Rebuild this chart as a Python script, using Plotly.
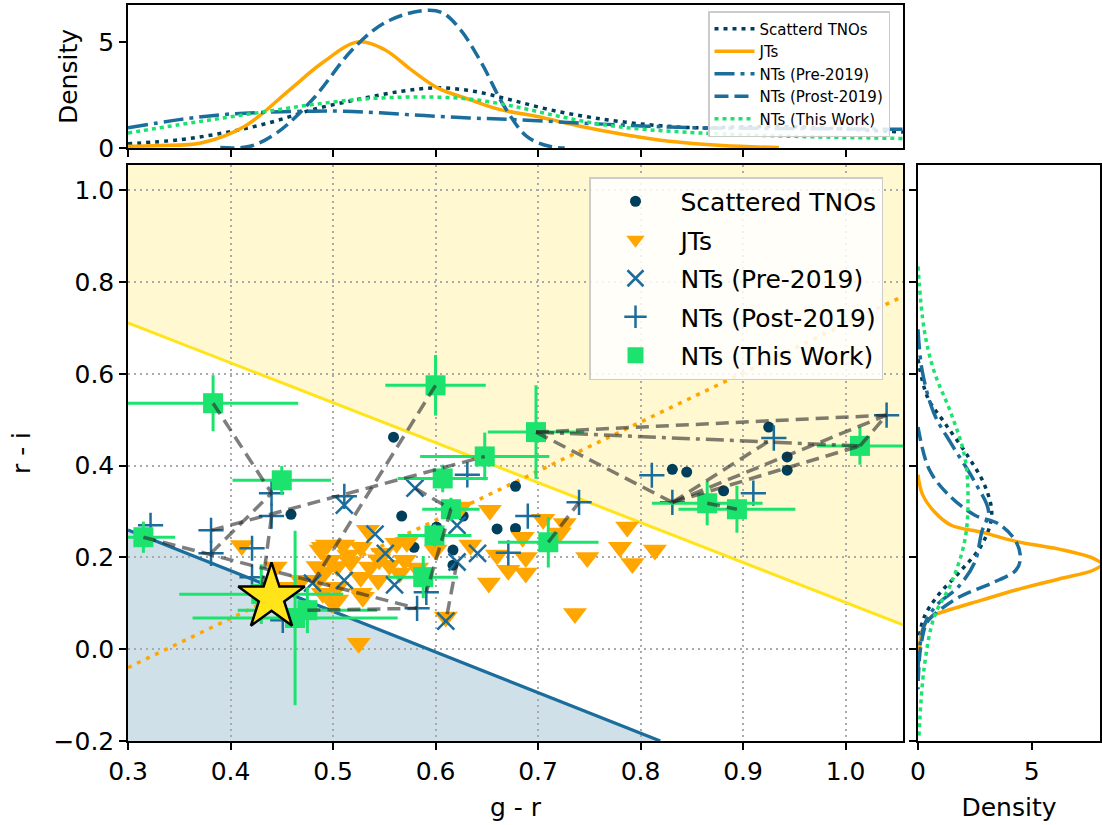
import plotly.graph_objects as go

# ------------------------------------------------------------------ data
SCAT_GR = [0.459, 0.559, 0.567, 0.627, 0.660, 0.678, 0.678, 0.617, 0.617, 0.579, 0.601,
           0.831, 0.845, 0.881, 0.925, 0.943, 0.943]
SCAT_RI = [0.294, 0.462, 0.290, 0.290, 0.262, 0.263, 0.355, 0.216, 0.183, 0.222, 0.266,
           0.392, 0.386, 0.345, 0.484, 0.419, 0.390]

JT_GR = [0.411, 0.444, 0.456, 0.469, 0.485, 0.488, 0.485, 0.490, 0.490, 0.492, 0.494, 0.497,
         0.500, 0.504, 0.504, 0.504, 0.510, 0.517, 0.527, 0.527, 0.527, 0.529, 0.534, 0.536,
         0.544, 0.548, 0.555, 0.562, 0.565, 0.570, 0.572, 0.582, 0.600, 0.610, 0.625, 0.634,
         0.652, 0.653, 0.660, 0.671, 0.685, 0.688, 0.688, 0.705, 0.721, 0.726, 0.736, 0.748,
         0.780, 0.787, 0.792, 0.814, 0.525, 0.515, 0.545]
JT_RI = [0.226, 0.179, 0.135, 0.150, 0.150, 0.216, 0.180, 0.122, 0.222, 0.168, 0.227, 0.194,
         0.100, 0.135, 0.180, 0.107, 0.227, 0.190, 0.222, 0.157, 0.122, 0.113, 0.259, 0.179,
         0.150, 0.209, 0.183, 0.231, 0.166, 0.194, 0.233, 0.177, 0.216, 0.070, 0.310, 0.227,
         0.144, 0.303, 0.205, 0.172, 0.244, 0.166, 0.200, 0.283, 0.253, 0.274, 0.078, 0.200,
         0.222, 0.266, 0.187, 0.216, 0.013, 0.205, 0.195]

PRE_GR = [0.580, 0.511, 0.541, 0.551, 0.511, 0.480, 0.560, 0.621, 0.641, 0.621, 0.610]
PRE_RI = [0.351, 0.314, 0.251, 0.209, 0.150, 0.144, 0.140, 0.270, 0.209, 0.190, 0.061]

POST_GR = [0.322, 0.381, 0.381, 0.440, 0.440, 0.421, 0.421, 0.451, 0.511, 0.582, 0.591,
           0.631, 0.671, 0.690, 0.740, 0.811, 0.831, 0.910, 0.930, 1.040]
POST_RI = [0.270, 0.259, 0.209, 0.340, 0.290, 0.220, 0.157, 0.063, 0.333, 0.089, 0.124,
           0.380, 0.210, 0.290, 0.320, 0.379, 0.320, 0.340, 0.460, 0.510]

TW_GR = [0.383, 0.450, 0.315, 0.600, 0.698, 0.648, 0.607, 0.615, 0.599, 0.588, 0.710,
         0.475, 0.463, 0.430, 0.865, 0.894, 1.014]
TW_RI = [0.536, 0.368, 0.244, 0.575, 0.473, 0.420, 0.372, 0.305, 0.248, 0.157, 0.233,
         0.085, 0.068, 0.120, 0.318, 0.305, 0.443]
TW_GR_ERR = [0.083, 0.048, 0.031, 0.049, 0.047, 0.063, 0.044, 0.028, 0.036, 0.034, 0.049,
             0.068, 0.100, 0.080, 0.054, 0.057, 0.042]
TW_RI_ERR = [0.061, 0.031, 0.034, 0.066, 0.102, 0.052, 0.030, 0.025, 0.024, 0.046, 0.055,
             0.050, 0.190, 0.065, 0.048, 0.051, 0.041]

STAR_GR = [0.44]
STAR_RI = [0.113]

# dashed connectors between measurements of the same objects (g-r pairs, r-i pairs)
LINK_GR = [(0.383, 0.440), (0.440, 0.430), (0.381, 0.440), (0.381, 0.648), (0.315, 0.582),
           (0.475, 0.582), (0.600, 0.480), (0.580, 0.615), (0.615, 0.591), (0.621, 0.610),
           (0.698, 1.040), (0.698, 0.831), (0.831, 0.930), (0.831, 1.040), (0.831, 1.014),
           (1.014, 1.040), (0.710, 0.740), (0.865, 0.894)]
LINK_RI = [(0.536, 0.340), (0.290, 0.120), (0.209, 0.340), (0.259, 0.420), (0.244, 0.089),
           (0.085, 0.089), (0.575, 0.144), (0.351, 0.305), (0.305, 0.124), (0.190, 0.061),
           (0.473, 0.510), (0.473, 0.320), (0.320, 0.460), (0.320, 0.510), (0.320, 0.443),
           (0.443, 0.510), (0.233, 0.320), (0.318, 0.305)]
LINK_DD_GR = [(0.698, 1.014)]
LINK_DD_RI = [(0.473, 0.443)]

# boundary lines: (intercept, slope) in r-i = a + b * (g-r)
YELLOW_LINE = (0.972, -0.870)
BLUE_LINE = (0.525, -0.885)
ORANGE_LINE = (-0.361, 1.070)

# marginal densities: g-r (top panel)
KDE_GR_SCAT_X = [0.30, 0.35, 0.393, 0.437, 0.48, 0.524, 0.567, 0.602, 0.637, 0.672, 0.711, 0.755,
                 0.808, 0.858, 0.90, 0.95, 1.0, 1.056]
KDE_GR_SCAT_D = [0.20, 0.39, 0.71, 1.18, 1.81, 2.29, 2.68, 2.84, 2.68, 2.29, 1.81, 1.42,
                 1.10, 0.95, 1.00, 1.00, 0.90, 0.75]
KDE_GR_JT_X = [0.30, 0.33, 0.371, 0.414, 0.458, 0.489, 0.524, 0.55, 0.576, 0.602, 0.633, 0.663,
               0.698, 0.741, 0.785, 0.828, 0.88, 0.935]
KDE_GR_JT_D = [0.08, 0.12, 0.24, 1.03, 2.76, 4.0, 5.0, 4.65, 3.7, 2.84, 2.29, 1.81,
               1.5, 1.03, 0.63, 0.32, 0.12, 0.02]
KDE_GR_A_X = [0.30, 0.35, 0.393, 0.437, 0.48, 0.51, 0.546, 0.589, 0.633, 0.676, 0.741, 0.806,
              0.858, 0.95, 1.056]
KDE_GR_A_D = [0.95, 1.34, 1.58, 1.69, 1.74, 1.74, 1.66, 1.53, 1.42, 1.34, 1.18, 1.03,
              0.95, 0.92, 0.88]
KDE_GR_B_X = [0.39, 0.419, 0.445, 0.48, 0.519, 0.55, 0.585, 0.606, 0.624, 0.645, 0.667, 0.689,
              0.711, 0.726]
KDE_GR_B_D = [0.02, 0.08, 0.71, 2.29, 4.65, 5.9, 6.47, 6.4, 5.6, 4.0, 1.97, 0.55, 0.08, 0.0]
KDE_GR_TW_X = [0.30, 0.35, 0.393, 0.437, 0.48, 0.524, 0.567, 0.602, 0.637, 0.676, 0.72, 0.764,
               0.806, 0.858, 0.95, 1.056]
KDE_GR_TW_D = [0.71, 1.10, 1.42, 1.74, 2.05, 2.29, 2.40, 2.40, 2.29, 1.97, 1.50, 1.10,
               0.87, 0.71, 0.55, 0.45]

# marginal densities: r-i (right panel)
KDE_RI_SCAT_Y = [0.632, 0.549, 0.494, 0.42, 0.355, 0.292, 0.227, 0.172, 0.116, 0.07, 0.024]
KDE_RI_SCAT_D = [0.0, 0.42, 1.16, 2.2, 2.95, 3.24, 2.8, 1.9, 0.86, 0.27, 0.04]
KDE_RI_JT_Y = [0.38, 0.338, 0.30, 0.27, 0.255, 0.235, 0.218, 0.198, 0.185, 0.172, 0.153, 0.129,
               0.107, 0.087, 0.07, 0.041, -0.022]
KDE_RI_JT_D = [0.0, 0.19, 0.71, 1.46, 2.8, 4.3, 6.2, 7.7, 8.08, 7.7, 6.2, 4.3,
               2.8, 1.46, 0.57, 0.19, 0.04]
KDE_RI_A_Y = [0.697, 0.605, 0.513, 0.448, 0.364, 0.30, 0.255, 0.19, 0.135, 0.098, 0.052, -0.041]
KDE_RI_A_D = [0.0, 0.19, 0.71, 1.46, 2.5, 3.1, 2.8, 2.5, 1.76, 0.86, 0.27, 0.0]
KDE_RI_B_Y = [0.484, 0.392, 0.338, 0.292, 0.273, 0.235, 0.198, 0.172, 0.144, 0.116, 0.087, 0.06,
              0.005, -0.087]
KDE_RI_B_D = [0.0, 0.49, 1.31, 2.5, 3.54, 4.3, 4.5, 4.3, 3.24, 1.9, 1.0, 0.42, 0.12, 0.0]
KDE_RI_TW_Y = [0.834, 0.697, 0.605, 0.513, 0.42, 0.327, 0.235, 0.144, 0.07, -0.041, -0.19]
KDE_RI_TW_D = [0.0, 0.27, 0.71, 1.46, 2.05, 2.2, 2.05, 1.46, 0.71, 0.27, 0.04]

X_TICKS = [0.3, 0.4, 0.5, 0.6, 0.7, 0.8, 0.9, 1.0]
Y_TICKS = [-0.2, 0.0, 0.2, 0.4, 0.6, 0.8, 1.0]
Y_TICKTEXT = ["\u22120.2", "0.0", "0.2", "0.4", "0.6", "0.8", "1.0"]

# ------------------------------------------------------------------ style
NAVY = "#003f5c"
ORANGE = "#ffa600"
BLUE = "#1b6d9c"
GREEN = "#1be36e"
YELLOW = "#ffe41a"
FONT = "DejaVu Sans"
X_RANGE = [0.3, 1.056]
Y_RANGE = [-0.2, 1.055]
W, H = 1102, 825

fig = go.Figure()

def line_y(p, x):
    return p[0] + p[1] * x

def line_x(p, y):
    return (y - p[0]) / p[1]

# shaded regions (drawn below grid)
yl0, yl1 = line_y(YELLOW_LINE, X_RANGE[0]), line_y(YELLOW_LINE, X_RANGE[1])
yellow_path = (f"M {X_RANGE[0]},{yl0} L {X_RANGE[1]},{yl1} L {X_RANGE[1]},{Y_RANGE[1]} "
               f"L {X_RANGE[0]},{Y_RANGE[1]} Z")
bl0 = line_y(BLUE_LINE, X_RANGE[0])
bx_end = line_x(BLUE_LINE, Y_RANGE[0])
blue_path = f"M {X_RANGE[0]},{bl0} L {bx_end},{Y_RANGE[0]} L {X_RANGE[0]},{Y_RANGE[0]} Z"
shapes = [
    dict(type="path", path=yellow_path, xref="x", yref="y", fillcolor="#fff8d1",
         line=dict(width=0), layer="below"),
    dict(type="path", path=blue_path, xref="x", yref="y", fillcolor="#cfe0e9",
         line=dict(width=0), layer="below"),
]

# boundary lines
fig.add_trace(go.Scatter(x=[X_RANGE[0], X_RANGE[1]], y=[yl0, yl1], mode="lines",
                         line=dict(color=YELLOW, width=3), showlegend=False,
                         hoverinfo="skip", xaxis="x", yaxis="y"))
fig.add_trace(go.Scatter(x=[X_RANGE[0], bx_end], y=[bl0, Y_RANGE[0]], mode="lines",
                         line=dict(color=BLUE, width=3.2), showlegend=False,
                         hoverinfo="skip", xaxis="x", yaxis="y"))
fig.add_trace(go.Scatter(x=[X_RANGE[0], X_RANGE[1]],
                         y=[line_y(ORANGE_LINE, X_RANGE[0]), line_y(ORANGE_LINE, X_RANGE[1])],
                         mode="lines", line=dict(color=ORANGE, width=3.5, dash="4px,6px"),
                         showlegend=False, hoverinfo="skip", xaxis="x", yaxis="y"))

# scatter groups
fig.add_trace(go.Scatter(x=SCAT_GR, y=SCAT_RI, mode="markers", name="Scattered TNOs",
                         marker=dict(color=NAVY, size=11, symbol="circle"),
                         legend="legend", legendgroup="a"))
fig.add_trace(go.Scatter(x=JT_GR, y=JT_RI, mode="markers", name="JTs",
                         marker=dict(color=ORANGE, size=21, symbol="triangle-down"),
                         legend="legend", legendgroup="b"))
fig.add_trace(go.Scatter(x=PRE_GR, y=PRE_RI, mode="markers", name="NTs (Pre-2019)",
                         marker=dict(color=BLUE, size=17, symbol="x-thin",
                                     line=dict(color=BLUE, width=2.5)),
                         legend="legend", legendgroup="c"))
fig.add_trace(go.Scatter(x=POST_GR, y=POST_RI, mode="markers", name="NTs (Post-2019)",
                         marker=dict(color=BLUE, size=18, symbol="cross-thin",
                                     line=dict(color=BLUE, width=2.5)),
                         legend="legend", legendgroup="d"))
fig.add_trace(go.Scatter(x=TW_GR, y=TW_RI, mode="markers", name="NTs (This Work)",
                         marker=dict(color=GREEN, size=20, symbol="square"),
                         error_x=dict(type="data", array=TW_GR_ERR, color=GREEN,
                                      thickness=3, width=0),
                         error_y=dict(type="data", array=TW_RI_ERR, color=GREEN,
                                      thickness=3, width=0),
                         legend="legend", legendgroup="e"))

# connectors
def seg_xy(gr, ri):
    xs, ys = [], []
    for (a, b), (c, d) in zip(gr, ri):
        xs += [a, b, None]
        ys += [c, d, None]
    return xs, ys

lx, ly = seg_xy(LINK_GR, LINK_RI)
fig.add_trace(go.Scatter(x=lx, y=ly, mode="lines",
                         line=dict(color="rgba(40,40,40,0.6)", width=3.5, dash="13px,7px"),
                         showlegend=False, hoverinfo="skip", connectgaps=False))
dx, dy = seg_xy(LINK_DD_GR, LINK_DD_RI)
fig.add_trace(go.Scatter(x=dx, y=dy, mode="lines",
                         line=dict(color="rgba(40,40,40,0.6)", width=3.5,
                                   dash="18px,6px,4px,6px"),
                         showlegend=False, hoverinfo="skip"))

# star
fig.add_trace(go.Scatter(x=STAR_GR, y=STAR_RI, mode="markers", showlegend=False,
                         marker=dict(symbol="star", size=50, color=YELLOW,
                                     line=dict(color="black", width=2.5))))

# top marginal
top_specs = [
    ("Scatterd TNOs", KDE_GR_SCAT_X, KDE_GR_SCAT_D, NAVY, "4px,5px"),
    ("JTs", KDE_GR_JT_X, KDE_GR_JT_D, ORANGE, "solid"),
    ("NTs (Pre-2019)", KDE_GR_A_X, KDE_GR_A_D, BLUE, "20px,6px,4px,6px"),
    ("NTs (Prost-2019)", KDE_GR_B_X, KDE_GR_B_D, BLUE, "14px,6px"),
    ("NTs (This Work)", KDE_GR_TW_X, KDE_GR_TW_D, GREEN, "4px,4px"),
]
for i, (nm, xs, ds, col, dash) in enumerate(top_specs):
    fig.add_trace(go.Scatter(x=xs, y=ds, mode="lines", name=nm, xaxis="x2", yaxis="y2",
                             line=dict(color=col, width=3.5, dash=dash, shape="spline"),
                             legend="legend2", legendgroup=f"t{i}"))

# right marginal
right_specs = [
    (KDE_RI_SCAT_Y, KDE_RI_SCAT_D, NAVY, "4px,5px"),
    (KDE_RI_JT_Y, KDE_RI_JT_D, ORANGE, "solid"),
    (KDE_RI_A_Y, KDE_RI_A_D, BLUE, "20px,6px,4px,6px"),
    (KDE_RI_B_Y, KDE_RI_B_D, BLUE, "14px,6px"),
    (KDE_RI_TW_Y, KDE_RI_TW_D, GREEN, "4px,4px"),
]
for ys, ds, col, dash in right_specs:
    fig.add_trace(go.Scatter(x=ds, y=ys, mode="lines", xaxis="x3", yaxis="y3",
                             line=dict(color=col, width=3.5, dash=dash, shape="spline"),
                             showlegend=False, hoverinfo="skip"))

# ------------------------------------------------------------------ layout
xd = [128 / W, 903 / W]
yd = [1 - 741 / H, 1 - 165 / H]
ytop = [1 - 148 / H, 1 - 5 / H]
xr = [918 / W, 1100 / W]

axis_common = dict(showline=True, linecolor="black", linewidth=1.5, mirror=True,
                   ticks="outside", ticklen=7, tickwidth=1.5, tickcolor="black",
                   tickfont=dict(size=25, color="black", family=FONT), zeroline=False,
                   automargin=False)
grid = dict(showgrid=True, gridcolor="#aaaaaa", griddash="2px,4px", gridwidth=1.5)

fig.update_layout(
    width=W, height=H, autosize=False,
    margin=dict(l=0, r=0, t=0, b=0),
    paper_bgcolor="white", plot_bgcolor="rgba(0,0,0,0)",
    font=dict(family=FONT, color="black", size=25),
    shapes=shapes,
    xaxis=dict(domain=xd, range=X_RANGE, anchor="y", tickvals=X_TICKS,
               ticktext=[f"{v:.1f}" for v in X_TICKS],
               title=dict(text="g - r", standoff=14, font=dict(size=25)),
               **grid, **axis_common),
    yaxis=dict(domain=yd, range=Y_RANGE, anchor="x", tickvals=Y_TICKS, ticktext=Y_TICKTEXT,
               title=dict(text="r - i", standoff=16, font=dict(size=25)),
               **grid, **axis_common),
    xaxis2=dict(domain=xd, range=X_RANGE, anchor="y2", matches="x", tickvals=X_TICKS,
                showticklabels=False, showgrid=False, **axis_common),
    yaxis2=dict(domain=ytop, range=[0, 6.75], anchor="x2", tickvals=[0, 5],
                showgrid=False, title=dict(text="Density", standoff=14, font=dict(size=25)),
                **axis_common),
    xaxis3=dict(domain=xr, range=[0, 8], anchor="y3", tickvals=[0, 5], showgrid=False,
                title=dict(text="Density", standoff=14, font=dict(size=25)), **axis_common),
    yaxis3=dict(domain=yd, range=Y_RANGE, anchor="x3", matches="y", tickvals=Y_TICKS,
                showticklabels=False, showgrid=False, **axis_common),
    legend=dict(x=883 / W, y=1 - 177 / H, xanchor="right", yanchor="top",
                bgcolor="rgba(255,255,255,0.85)", bordercolor="#cccccc", borderwidth=1.5,
                font=dict(size=25, family=FONT), tracegroupgap=3, itemwidth=80,
                traceorder="grouped"),
    legend2=dict(x=890 / W, y=1 - 11 / H, xanchor="right", yanchor="top",
                 bgcolor="rgba(255,255,255,0.85)", bordercolor="#cccccc", borderwidth=1.5,
                 font=dict(size=15, family=FONT), tracegroupgap=0, itemwidth=40,
                 traceorder="grouped"),
)

fig.write_html("out.html")
